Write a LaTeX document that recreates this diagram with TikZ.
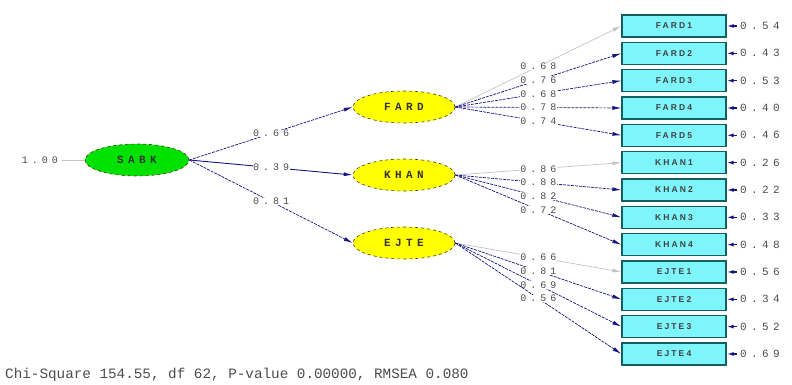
\documentclass[tikz,border=0pt]{standalone}
\usepackage{fontspec}
\usetikzlibrary{shapes.geometric,arrows.meta}
\newfontfamily\monof[LetterSpace=40]{Liberation Mono}
\newfontfamily\monobig{Liberation Mono}
\newfontfamily\boxf[LetterSpace=25]{Liberation Sans}
\definecolor{navyc}{RGB}{20,20,130}
\definecolor{greyc}{RGB}{195,195,195}
\definecolor{boxfill}{RGB}{125,245,250}
\definecolor{boxdraw}{RGB}{20,95,95}
\definecolor{yellowc}{RGB}{255,255,0}
\definecolor{greenc}{RGB}{0,225,0}
\definecolor{ellline}{RGB}{60,60,20}
\tikzset{
  obs/.style={draw=boxdraw,line width=1.3pt,fill=boxfill,minimum width=104pt,minimum height=22pt,inner sep=0pt,font=\boxf\fontsize{8.5}{9}\selectfont\bfseries,text=black!75},
  lat/.style={ellipse,draw=ellline,dashed,line width=0.6pt,fill=yellowc,minimum width=102pt,minimum height=32pt,inner sep=0pt,font=\monof\fontsize{11}{12}\selectfont\bfseries,text=black!80},
  load/.style={draw=navyc,dash pattern=on 3pt off 1pt,line width=0.7pt,-{Latex[length=9pt,width=4pt]}},
  loadg/.style={draw=greyc,line width=0.7pt,-{Latex[length=9pt,width=4pt]}},
  err/.style={draw=navyc,line width=1.6pt,-{Latex[length=7pt,width=4pt]}},
  lab/.style={fill=white,inner sep=0.5pt,font=\monof\fontsize{10}{11}\selectfont,text=black!70},
  errlab/.style={anchor=west,inner sep=0pt,font=\monof\fontsize{11}{12}\selectfont,text=black!70}
}
\begin{document}
\begin{tikzpicture}[x=1pt,y=-1pt]
\useasboundingbox (0,0) rectangle (792,385);
% latent variables
\node[lat,fill=greenc,minimum width=104pt] (sabk) at (137,160) {SABK};
\node[lat] (fard) at (404,107) {FARD};
\node[lat] (khan) at (404,175) {KHAN};
\node[lat] (ejte) at (404,243) {EJTE};
% observed
\foreach \n/\t [count=\i from 0] in {f1/FARD1,f2/FARD2,f3/FARD3,f4/FARD4,f5/FARD5,k1/KHAN1,k2/KHAN2,k3/KHAN3,k4/KHAN4,e1/EJTE1,e2/EJTE2,e3/EJTE3,e4/EJTE4}{
  \node[obs] (\n) at (674,{26+27.33*\i}) {\t};
  \coordinate (x\n) at (737,{26+27.33*\i});
}
% left
\node[inner sep=0pt,font=\monof\fontsize{10}{11}\selectfont,text=black!70] (one) at (40,160) {1.00};
\draw[greyc,line width=0.7pt] (one.east) ++(4,0) coordinate (onee) (onee) -- (sabk.west);
% structural paths
\draw[load] (sabk.east) -- node[lab] {0.66} (fard.west);
\draw[load,solid,line width=0.9pt] (sabk.east) -- node[lab] {0.39} (khan.west);
\draw[load] (sabk.east) -- node[lab] {0.81} (ejte.west);
% FARD
\draw[loadg] (fard.east) -- node[lab] {0.68} (f1.west);
\draw[load] (fard.east) -- node[lab] {0.76} (f2.west);
\draw[load] (fard.east) -- node[lab] {0.68} (f3.west);
\draw[load] (fard.east) -- node[lab] {0.78} (f4.west);
\draw[load] (fard.east) -- node[lab] {0.74} (f5.west);
% KHAN
\draw[loadg] (khan.east) -- node[lab] {0.86} (k1.west);
\draw[load] (khan.east) -- node[lab] {0.88} (k2.west);
\draw[load] (khan.east) -- node[lab] {0.82} (k3.west);
\draw[load] (khan.east) -- node[lab] {0.72} (k4.west);
% EJTE
\draw[loadg] (ejte.east) -- node[lab] {0.66} (e1.west);
\draw[load] (ejte.east) -- node[lab] {0.81} (e2.west);
\draw[load] (ejte.east) -- node[lab] {0.69} (e3.west);
\draw[load] (ejte.east) -- node[lab] {0.56} (e4.west);
% errors
\foreach \n/\v in {f1/0.54,f2/0.43,f3/0.53,f4/0.40,f5/0.46,k1/0.26,k2/0.22,k3/0.33,k4/0.48,e1/0.56,e2/0.34,e3/0.52,e4/0.69}{
  \draw[err] (x\n) -- (\n.east);
  \node[errlab] (v\n) at ([xshift=3pt]x\n) {\v};
}
% fit statistics
\node[anchor=west,inner sep=0pt,font=\monobig\fontsize{14.3}{15}\selectfont,text=black!70] (fit) at (5,375) {Chi-Square 154.55, df 62, P-value 0.00000, RMSEA 0.080};
\end{tikzpicture}
\end{document}
